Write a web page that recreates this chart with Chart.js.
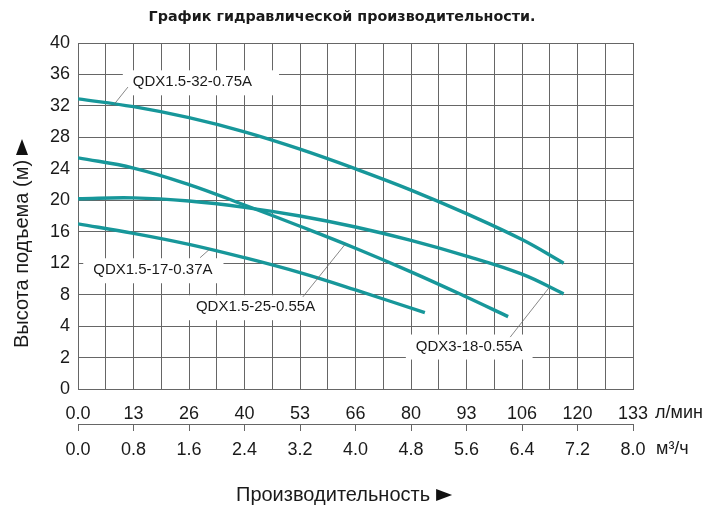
<!DOCTYPE html>
<html>
<head>
<meta charset="utf-8">
<script src="https://cdn.jsdelivr.net/npm/chart.js@4/dist/chart.umd.min.js"></script>
<style>
  html, body { margin: 0; padding: 0; background: #fff; }
  canvas { display: block; }
</style>
</head>
<body>
<canvas id="chart" width="728" height="515"></canvas>
<script>
// tick labels
const headTicks = [0, 2, 4, 8, 12, 16, 20, 24, 28, 32, 36, 40];
const lpmTicks = ['0.0', '13', '26', '40', '53', '66', '80', '93', '106', '120', '133'];
const m3hTicks = [0, 0.8, 1.6, 2.4, 3.2, 4.0, 4.8, 5.6, 6.4, 7.2, 8.0];

// pump curves: flow (m3/h) and head (m)
const q32 = [0, 0.8, 1.6, 2.4, 3.2, 4.0, 4.8, 5.6, 6.4, 7.0];
const h32 = [32.9, 31.9, 30.5, 28.7, 26.5, 24.0, 21.3, 18.3, 15.0, 12.0];

const q25 = [0, 0.8, 1.6, 2.4, 3.2, 4.0, 4.8, 5.6, 6.2];
const h25 = [25.4, 24.1, 22.0, 19.4, 16.7, 13.9, 10.9, 7.7, 5.2];

const q18 = [0, 0.8, 1.6, 2.4, 3.2, 4.0, 4.8, 5.6, 6.4, 7.0];
const h18 = [20.2, 20.3, 19.9, 19.1, 18.0, 16.6, 14.9, 12.9, 10.6, 8.1];

const q17 = [0, 0.8, 1.6, 2.4, 3.2, 4.0, 5.0];
const h17 = [17.0, 15.8, 14.4, 12.7, 10.8, 8.6, 5.7];

const names = ['QDX1.5-32-0.75A', 'QDX1.5-25-0.55A', 'QDX3-18-0.55A', 'QDX1.5-17-0.37A'];

const teal = '#17979a';
const gridColor = '#666';
const textColor = '#1a1a1a';
const font = "'Liberation Sans', Arial, sans-serif";

// the head axis is spaced by tick index, not by metres
function toAxis(h) {
  for (let i = 0; i < headTicks.length - 1; i++) {
    if (h <= headTicks[i + 1]) {
      return i + (h - headTicks[i]) / (headTicks[i + 1] - headTicks[i]);
    }
  }
  return headTicks.length - 1;
}

function series(label, q, h) {
  return {
    label: label,
    data: q.map((x, i) => ({ x: x, y: toAxis(h[i]) })),
    borderColor: teal,
    borderWidth: 3.4,
    borderCapStyle: 'butt',
    pointRadius: 0,
    fill: false,
    tension: 0.4
  };
}

// callouts: text position and leader line in data units (m3/h, m)
const callouts = [
  { text: names[0], x: 0.79, y: 35.0, from: [0.72, 34.4], to: [0.53, 32.3], pad: [10, 27] },
  { text: names[3], x: 0.22, y: 11.1, from: [1.76, 12.7], to: [1.90, 13.8], pad: [10, 11] },
  { text: names[1], x: 1.70, y: 6.4, from: [3.24, 7.7], to: [3.85, 14.4], pad: [8, 9] },
  { text: names[2], x: 4.87, y: 2.7, from: [6.23, 3.3], to: [6.80, 9.0], pad: [10, 10] }
];

const decor = {
  id: 'decor',
  beforeDatasetsDraw(chart) {
    const { ctx, scales } = chart;
    ctx.save();
    ctx.font = '15px ' + font;
    ctx.fillStyle = '#fff';
    callouts.forEach(c => {
      const px = scales.x.getPixelForValue(c.x);
      const py = scales.y.getPixelForValue(toAxis(c.y));
      const w = ctx.measureText(c.text).width;
      ctx.fillRect(px - c.pad[0], py - 12, w + c.pad[0] + c.pad[1], 25);
    });
    ctx.restore();
  },
  afterDatasetsDraw(chart) {
    const { ctx, scales, chartArea } = chart;
    ctx.save();
    // leaders
    ctx.strokeStyle = '#6a6a6a';
    ctx.lineWidth = 0.8;
    callouts.forEach(c => {
      ctx.beginPath();
      ctx.moveTo(scales.x.getPixelForValue(c.from[0]), scales.y.getPixelForValue(toAxis(c.from[1])));
      ctx.lineTo(scales.x.getPixelForValue(c.to[0]), scales.y.getPixelForValue(toAxis(c.to[1])));
      ctx.stroke();
    });
    ctx.fillStyle = textColor;
    ctx.textBaseline = 'middle';
    ctx.textAlign = 'left';
    ctx.font = '15px ' + font;
    callouts.forEach(c => {
      ctx.fillText(c.text, scales.x.getPixelForValue(c.x), scales.y.getPixelForValue(toAxis(c.y)));
    });

    // units
    ctx.font = '18px ' + font;
    ctx.fillText('л/мин', chartArea.right + 22, chartArea.bottom + 24);
    ctx.fillText('м³/ч', chartArea.right + 23, chartArea.bottom + 60);

    // top title
    ctx.textAlign = 'center';
    ctx.font = "bold 14.3px 'DejaVu Sans', Verdana, sans-serif";
    ctx.fillText('График гидравлической производительности.', 342, 17);

    // bottom title with arrow
    ctx.textAlign = 'left';
    ctx.font = '20px ' + font;
    const bx = 236, by = 495;
    const bw = ctx.measureText('Производительность').width;
    ctx.fillText('Производительность', bx, by);
    ctx.fillStyle = '#111';
    ctx.beginPath();
    ctx.moveTo(bx + bw + 6, by - 6);
    ctx.lineTo(bx + bw + 22, by);
    ctx.lineTo(bx + bw + 6, by + 6);
    ctx.closePath();
    ctx.fill();

    // y title with arrow
    const ty = 348, tx = 22;
    const tw = ctx.measureText('Высота подъема (м)').width;
    ctx.save();
    ctx.translate(tx, ty);
    ctx.rotate(-Math.PI / 2);
    ctx.fillStyle = textColor;
    ctx.fillText('Высота подъема (м)', 0, 0);
    ctx.restore();
    ctx.beginPath();
    ctx.moveTo(tx - 6, ty - tw - 5);
    ctx.lineTo(tx, ty - tw - 21);
    ctx.lineTo(tx + 6, ty - tw - 5);
    ctx.closePath();
    ctx.fill();
    ctx.restore();
  }
};

new Chart(document.getElementById('chart'), {
  type: 'line',
  data: {
    datasets: [
      series(names[0], q32, h32),
      series(names[1], q25, h25),
      series(names[2], q18, h18),
      series(names[3], q17, h17)
    ]
  },
  options: {
    responsive: false,
    animation: false,
    layout: { padding: { top: 43, right: 95, left: 0, bottom: 0 } },
    plugins: { legend: { display: false }, tooltip: { enabled: false } },
    scales: {
      x: {
        type: 'linear', position: 'bottom', min: 0, max: 8,
        afterBuildTicks: s => { s.ticks = Array.from({ length: 21 }, (_, i) => ({ value: i * 0.4 })); },
        afterFit: s => { s.height = 35; },
        grid: { color: gridColor, lineWidth: 1, drawTicks: false },
        border: { color: gridColor },
        ticks: {
          autoSkip: false, maxRotation: 0, padding: 14, color: textColor,
          font: { family: font, size: 18 },
          callback: (v, i) => (i % 2 === 0 ? lpmTicks[i / 2] : '')
        }
      },
      x2: {
        type: 'linear', position: 'bottom', min: 0, max: 8,
        afterBuildTicks: s => { s.ticks = m3hTicks.map(v => ({ value: v })); },
        afterFit: s => { s.height = 91; },
        grid: { drawOnChartArea: false, drawTicks: true, tickLength: 7, color: gridColor },
        border: { display: true, color: gridColor },
        ticks: {
          autoSkip: false, maxRotation: 0, padding: 8, color: textColor,
          font: { family: font, size: 18 },
          callback: (v, i) => m3hTicks[i].toFixed(1)
        }
      },
      y: {
        min: 0, max: headTicks.length - 1,
        afterBuildTicks: s => { s.ticks = headTicks.map((t, i) => ({ value: i })); },
        afterFit: s => { s.width = 78; },
        grid: { color: gridColor, lineWidth: 1, drawTicks: false },
        border: { color: gridColor },
        ticks: {
          padding: 8, color: textColor,
          font: { family: font, size: 18 },
          callback: (v, i) => String(headTicks[i])
        }
      }
    }
  },
  plugins: [decor]
});
</script>
</body>
</html>
